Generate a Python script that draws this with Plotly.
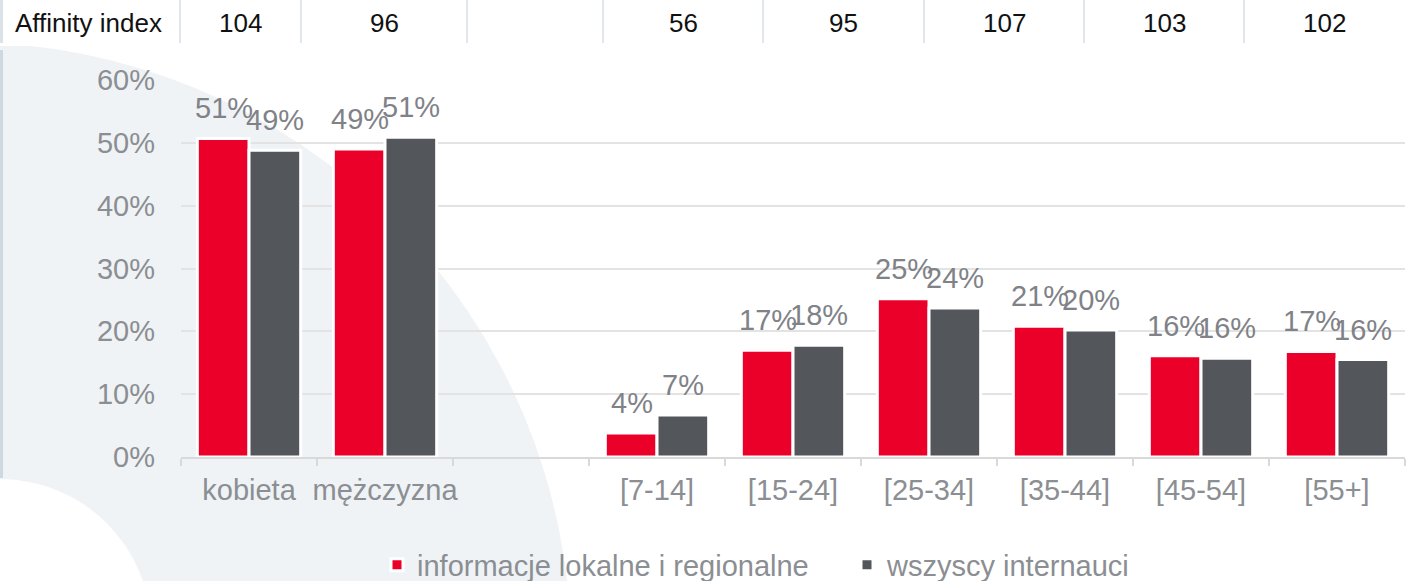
import plotly.graph_objects as go

# ---------------- data ----------------
categories = ["kobieta", "mężczyzna", " ", "[7-14]", "[15-24]", "[25-34]", "[35-44]", "[45-54]", "[55+]"]
local_news = [50.7, 49.0, None, 3.8, 17.0, 25.2, 20.8, 16.1, 16.8]
all_users = [48.8, 50.9, None, 6.7, 17.8, 23.7, 20.2, 15.7, 15.5]
series_names = ["informacje lokalne i regionalne", "wszyscy internauci"]
affinity_label = "Affinity index"
affinity_index = [104, 96, None, 56, 95, 107, 103, 102]
y_ticks = [0, 10, 20, 30, 40, 50, 60]
y_tick_labels = [f"{v}%" for v in y_ticks]

# ---------------- layout constants (pixels) ----------------
W, H = 1412, 581
L, R, T, B = 181, 1405, 80, 457
table_seps = [180, 301, 467, 603, 763, 924, 1084, 1244, 1404]

RED = "#eb0029"
DARK = "#53565a"
LABEL = "#8b8e92"
DATA_LABEL = "#7f8287"
FONT = "Liberation Sans, Arial, sans-serif"


def px(x):
    return (x - L) / (R - L)


def py(y):
    return (B - y) / (B - T)


fig = go.Figure()
fig.add_trace(go.Bar(x=categories, y=local_news, name=series_names[0],
                     marker=dict(color=RED, line=dict(color="white", width=3))))
fig.add_trace(go.Bar(x=categories, y=all_users, name=series_names[1],
                     marker=dict(color=DARK, line=dict(color="white", width=3))))

annotations = []
# data labels
for vals, shift in ((local_news, -25.5), (all_users, 25.5)):
    for c, v in zip(categories, vals):
        if v is None:
            continue
        annotations.append(dict(x=c, y=v, xref="x", yref="y", text=f"{round(v)}%",
                                showarrow=False, xshift=shift, yshift=12, yanchor="bottom",
                                font=dict(family=FONT, size=29, color=DATA_LABEL)))

# top table
annotations.append(dict(x=px(13), y=py(23), xref="paper", yref="paper", text=affinity_label,
                        showarrow=False, xanchor="left", yanchor="middle",
                        font=dict(family=FONT, size=26, color="#111111")))
for i, v in enumerate(affinity_index):
    if v is None:
        continue
    cx = (table_seps[i] + table_seps[i + 1]) / 2
    annotations.append(dict(x=px(cx), y=py(23), xref="paper", yref="paper", text=str(v),
                            showarrow=False, xanchor="center", yanchor="middle",
                            font=dict(family=FONT, size=26, color="#111111")))

shapes = []
# background decorations
shapes.append(dict(type="circle", xref="paper", yref="paper", layer="below",
                   x0=px(-37 - 608), x1=px(-37 + 608), y0=py(650 + 608), y1=py(650 - 608),
                   fillcolor="#eff3f6", line=dict(width=0)))
shapes.append(dict(type="circle", xref="paper", yref="paper", layer="below",
                   x0=px(-151), x1=px(151), y0=py(630 + 151), y1=py(630 - 151),
                   fillcolor="#ffffff", line=dict(width=0)))
shapes.append(dict(type="rect", xref="paper", yref="paper", layer="below",
                   x0=px(0), x1=px(W), y0=py(0), y1=py(46),
                   fillcolor="#ffffff", line=dict(width=0)))
shapes.append(dict(type="line", xref="paper", yref="paper", layer="below",
                   x0=px(1.5), x1=px(1.5), y0=py(50), y1=py(478),
                   line=dict(color="#cfd8e0", width=3)))
shapes.append(dict(type="line", xref="paper", yref="paper", layer="below",
                   x0=px(1.5), x1=px(1.5), y0=py(0), y1=py(43),
                   line=dict(color="#dbe2e8", width=3)))
for sx in table_seps[:-1]:
    shapes.append(dict(type="line", xref="paper", yref="paper", layer="below",
                       x0=px(sx), x1=px(sx), y0=py(0), y1=py(43),
                       line=dict(color="#e0e6ec", width=2)))

fig.update_layout(
    width=W, height=H,
    margin=dict(l=L, r=W - R, t=T, b=H - B, autoexpand=False),
    paper_bgcolor="white", plot_bgcolor="rgba(0,0,0,0)",
    barmode="group", bargap=0.24, bargroupgap=0,
    font=dict(family=FONT, color=LABEL),
    showlegend=True,
    legend=dict(orientation="h", x=px(847), xanchor="center", y=py(565), yanchor="middle",
                entrywidth=425, entrywidthmode="pixels",
                font=dict(family=FONT, size=29, color=LABEL), bgcolor="rgba(0,0,0,0)"),
    annotations=annotations, shapes=shapes,
    hovermode=False,
)
fig.update_xaxes(type="category", categoryorder="array", categoryarray=categories,
                 showgrid=False, showline=True, linecolor="#d9d9d9", linewidth=1.5,
                 ticks="outside", tickson="boundaries", ticklen=7, tickwidth=1.5, tickcolor="#d9d9d9",
                 tickangle=0,
                 tickfont=dict(family=FONT, size=29, color=LABEL), ticklabelstandoff=6)
fig.update_yaxes(range=[0, 60], tickmode="array", tickvals=y_ticks, ticktext=y_tick_labels,
                 showgrid=True, gridcolor="#e3e3e3", gridwidth=1.5, zeroline=False,
                 ticks="", ticklabelstandoff=25,
                 tickfont=dict(family=FONT, size=29, color=LABEL))

fig.write_html("out.html", config={"displayModeBar": False},
               post_script="document.body.style.margin='0';")
